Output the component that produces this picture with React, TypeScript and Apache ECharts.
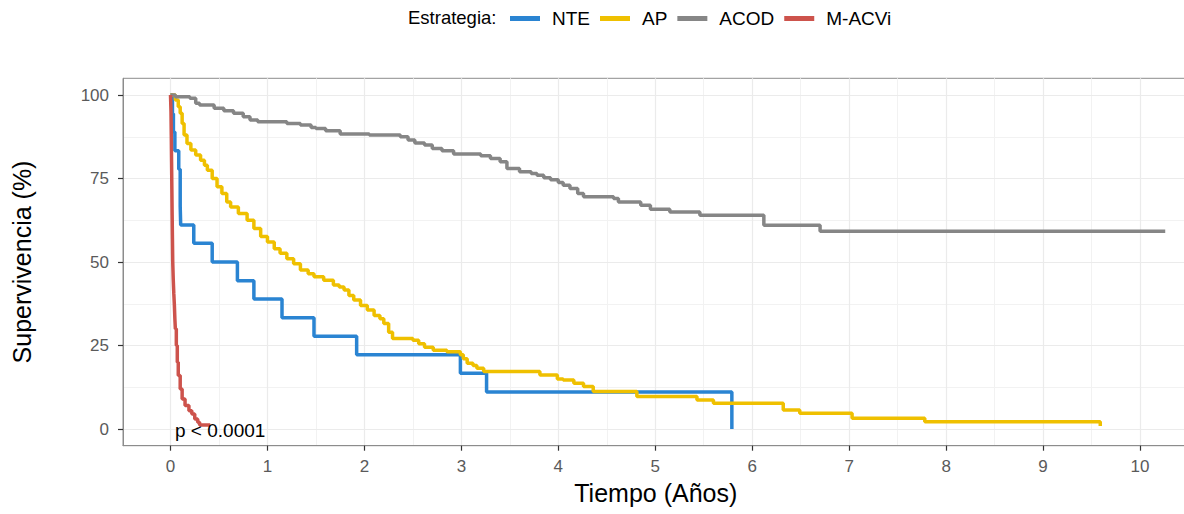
import React, { useEffect, useRef } from "react";
import * as echarts from "echarts";

// ---- data (time in years, survival in %) ----
const seriesNames = ["NTE", "AP", "ACOD", "M-ACVi"];

const nteData: number[][] = [
  [0, 100], [0.02, 94.4], [0.03, 88.9], [0.045, 83.3], [0.085, 77.8], [0.1, 72.2],
  [0.1, 66.7], [0.105, 61.1], [0.24, 55.6], [0.43, 50], [0.69, 44.4], [0.86, 38.9],
  [1.15, 33.3], [1.48, 27.8], [1.92, 22.2], [2.99, 16.7], [3.26, 11.1], [5.79, 0],
];

const apData: number[][] = [
  [0, 100], [0.05, 98.5], [0.08, 96.5], [0.1, 94.5], [0.12, 91.5], [0.14, 88],
  [0.17, 85.5], [0.21, 83.5], [0.26, 82], [0.31, 80.5], [0.35, 79], [0.38, 77.5],
  [0.43, 75], [0.48, 72.5], [0.53, 70.5], [0.58, 68], [0.62, 66.5], [0.7, 64.5],
  [0.79, 62.5], [0.86, 60], [0.93, 57.6], [1.0, 56], [1.07, 54], [1.13, 52.6],
  [1.2, 51], [1.27, 49.5], [1.34, 47.6], [1.42, 46.5], [1.48, 45.6], [1.58, 44.5],
  [1.68, 43.1], [1.74, 42.5], [1.79, 41.6], [1.84, 40], [1.89, 38.6], [1.96, 37],
  [2.03, 35.6], [2.1, 34], [2.16, 33], [2.2, 31.6], [2.25, 29], [2.29, 27.1],
  [2.5, 26.6], [2.56, 25.5], [2.62, 24.5], [2.71, 23.6], [2.85, 23.1], [2.99, 22.2],
  [3.02, 21], [3.06, 19.7], [3.12, 19], [3.16, 18.2], [3.23, 17.2], [3.81, 16.2],
  [3.99, 15], [4.05, 14.7], [4.16, 13.7], [4.26, 12.7], [4.36, 11.2], [4.81, 9.7],
  [5.43, 8.7], [5.6, 7.7], [6.32, 5.7], [6.49, 4.7], [7.03, 3.2], [7.78, 2.2],
  [9.59, 2.2], [9.59, 0.9],
];

const acodData: number[][] = [
  [0, 100], [0.05, 99.5], [0.2, 99], [0.26, 97.5], [0.3, 97], [0.45, 96],
  [0.55, 95.3], [0.65, 94.5], [0.75, 93.5], [0.82, 92.5], [0.9, 92], [1.2, 91.5],
  [1.34, 91], [1.45, 90.3], [1.5, 90], [1.6, 89.3], [1.75, 88.3], [2.05, 88],
  [2.37, 87.5], [2.45, 86.5], [2.52, 85.6], [2.62, 85], [2.7, 84], [2.8, 83.3],
  [2.92, 82.3], [3.2, 81.8], [3.3, 81], [3.4, 80], [3.47, 78], [3.6, 77],
  [3.72, 76.5], [3.78, 76], [3.85, 75.2], [3.92, 74.6], [4.0, 73.8], [4.05, 73],
  [4.12, 72], [4.2, 70.5], [4.26, 69.5], [4.57, 69], [4.62, 68], [4.85, 67],
  [4.95, 65.8], [5.15, 65], [5.46, 64], [6.12, 61], [6.7, 59.2], [10.26, 59.2],
];

const macviData: number[][] = [
  [0, 100], [0.005, 95], [0.008, 88], [0.011, 80], [0.014, 72], [0.017, 64],
  [0.02, 57], [0.023, 50], [0.028, 45], [0.034, 40.6], [0.04, 37], [0.045, 33],
  [0.05, 30], [0.06, 25], [0.07, 20], [0.08, 16], [0.1, 12], [0.12, 9],
  [0.15, 7], [0.19, 5.5], [0.22, 4.5], [0.25, 3], [0.28, 2], [0.3, 1.2], [0.41, 1.2],
];

const xTicks = [0, 1, 2, 3, 4, 5, 6, 7, 8, 9, 10];
const xMinor = [0.5, 1.5, 2.5, 3.5, 4.5, 5.5, 6.5, 7.5, 8.5, 9.5];
const yTicks = [0, 25, 50, 75, 100];
const yMinor = [12.5, 37.5, 62.5, 87.5];

const colors = ["#2A84D2", "#EFC000", "#868686", "#CD534C"];
const FONT = "Liberation Sans, Arial, Helvetica, sans-serif";

export default function App() {
  const ref = useRef<HTMLDivElement>(null);

  useEffect(() => {
    if (!ref.current) return;
    const chart = echarts.init(ref.current, null, { renderer: "svg" });

    const majorStyle = { color: "#EBEBEB", width: 1.2, type: "solid" as const };
    const minorStyle = { color: "#F2F2F2", width: 1, type: "solid" as const };
    const gridLines = [
      ...xMinor.map((v) => ({ xAxis: v, lineStyle: minorStyle })),
      ...yMinor.map((v) => ({ yAxis: v, lineStyle: minorStyle })),
      ...xTicks.map((v) => ({ xAxis: v, lineStyle: majorStyle })),
      ...yTicks.map((v) => ({ yAxis: v, lineStyle: majorStyle })),
    ];

    const datasets = [nteData, apData, acodData, macviData];

    const option: any = {
      animation: false,
      backgroundColor: "#ffffff",
      textStyle: { fontFamily: FONT },
      title: {
        text: "Estrategia:",
        left: 403,
        top: 3,
        textStyle: { fontSize: 18.5, fontWeight: "normal", color: "#000", fontFamily: FONT },
      },
      legend: {
        data: seriesNames,
        left: 505,
        top: 4,
        icon: "rect",
        itemWidth: 30,
        itemHeight: 5,
        itemGap: 10,
        textStyle: { fontSize: 19, color: "#000", fontFamily: FONT, padding: [0, 0, 0, 7] },
      },
      grid: {
        left: 123,
        top: 78.3,
        right: -4.5,
        bottom: 68.3,
        show: true,
        borderColor: "#8C8C8C",
        borderWidth: 1,
        backgroundColor: "transparent",
        outerBoundsMode: "none",
        containLabel: false,
      },
      xAxis: {
        type: "value",
        min: -0.49,
        max: 10.5,
        name: "Tiempo (Años)",
        nameLocation: "middle",
        nameGap: 35,
        nameTextStyle: { fontSize: 25, color: "#000", fontFamily: FONT },
        axisLine: { show: true, onZero: false, lineStyle: { color: "#8C8C8C", width: 1 } },
        axisTick: { show: true, length: 5, customValues: xTicks, lineStyle: { color: "#333", width: 1.2 } },
        axisLabel: { customValues: xTicks, color: "#5A5A5A", fontSize: 17, margin: 12, fontFamily: FONT },
        splitLine: { show: false },
      },
      yAxis: {
        type: "value",
        min: -5,
        max: 105,
        name: "Supervivencia (%)",
        nameLocation: "middle",
        nameRotate: 90,
        nameGap: 89,
        nameTextStyle: { fontSize: 25, color: "#000", fontFamily: FONT },
        axisLine: { show: true, onZero: false, lineStyle: { color: "#8C8C8C", width: 1 } },
        axisTick: { show: true, length: 5, customValues: yTicks, lineStyle: { color: "#333", width: 1.2 } },
        axisLabel: { customValues: yTicks, color: "#5A5A5A", fontSize: 17, margin: 14, fontFamily: FONT },
        splitLine: { show: false },
      },
      graphic: [
        {
          type: "text",
          left: 175,
          top: 421,
          z: 50,
          style: { text: "p < 0.0001", fontSize: 19, fill: "#000", fontFamily: FONT },
        },
      ],
      series: [
        {
          name: "__grid",
          type: "line",
          data: [[0, 0]],
          showSymbol: false,
          symbol: "none",
          lineStyle: { opacity: 0 },
          silent: true,
          z: 0,
          markLine: {
            silent: true,
            symbol: ["none", "none"],
            label: { show: false },
            z: 0,
            animation: false,
            data: gridLines,
          },
        },
        ...seriesNames.map((name, i) => ({
          name,
          type: "line",
          step: "end",
          data: datasets[i],
          showSymbol: false,
          symbol: "none",
          color: colors[i],
          lineStyle: { color: colors[i], width: 3.5 },
          itemStyle: { color: colors[i] },
          z: 3 + i,
        })),
      ],
    };

    chart.setOption(option);
    return () => chart.dispose();
  }, []);

  return (
    <div
      ref={ref}
      style={{ position: "fixed", left: 0, top: 0, width: 1184, height: 514 }}
    />
  );
}
